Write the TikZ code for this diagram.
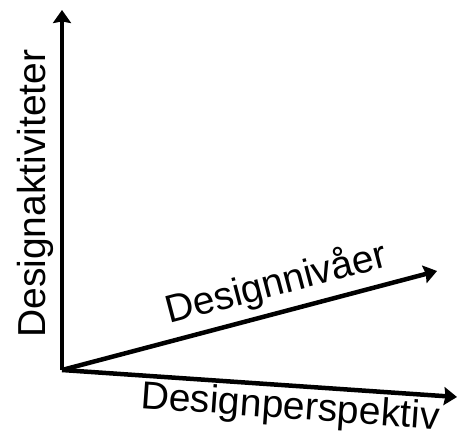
\documentclass[tikz,border=0pt]{standalone}
\usepackage{fontspec}
\setmainfont{Liberation Sans}
\usetikzlibrary{arrows.meta}
\begin{document}
\begin{tikzpicture}[x=1pt,y=-1pt,
  axis/.style={line width=4.5pt, -{Stealth[inset=1.5pt,length=13pt,width=18pt]}},
  axislabel/.style={inner sep=0pt, font=\fontsize{39}{39}\selectfont}]
  \useasboundingbox (0,0) rectangle (458,433);
  % axes from a common origin
  \coordinate (o) at (62,370);
  \coordinate (top) at (62,10);
  \coordinate (diag) at (437,271);
  \coordinate (right) at (457,397);
  \draw[axis] (o) -- (top);
  \draw[axis] (o) -- (diag);
  \draw[axis] (o) -- (right);
  % axis labels
  \node[axislabel, anchor=base west, rotate=90] (la) at (45,338) {Designaktiviteter};
  \node[axislabel, anchor=base west, rotate=14.7] (lb) at (169,324) {Designnivåer};
  \node[axislabel, anchor=base west, rotate=-4.1] (lc) at (140,408) {Designperspektiv};
\end{tikzpicture}
\end{document}
